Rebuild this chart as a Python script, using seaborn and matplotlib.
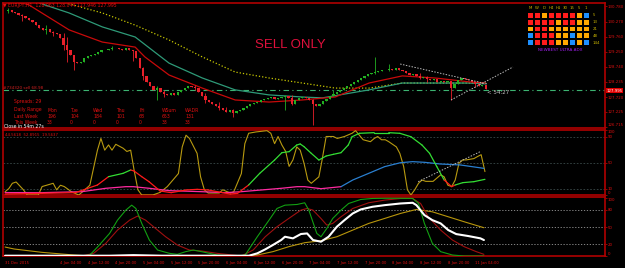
import numpy as np
import pandas as pd
import matplotlib
matplotlib.use("Agg")
import matplotlib.pyplot as plt
import seaborn as sns
from matplotlib.colors import ListedColormap

# ------------------------------------------------------------------ data (x = hourly bar index)
closes = [130.63, 130.66, 130.59, 130.56, 130.50, 130.46, 130.40, 130.33, 130.26, 130.15, 130.05, 129.99, 130.02,
          129.92, 129.88, 129.85,
          129.72, 129.48, 129.31, 129.14, 128.92, 128.87, 128.91,
          129.04, 129.10, 129.14, 129.18, 129.25, 129.31, 129.31, 129.35, 129.38, 129.38, 129.35, 129.31, 129.38,
          129.31, 129.28,
          129.04, 128.71, 128.44, 128.24, 128.10,
          127.97, 128.03, 127.90, 127.83, 127.80, 127.86, 127.80,
          127.90, 127.97, 128.03, 128.10, 128.06, 128.03,
          127.90, 127.76, 127.63, 127.56, 127.49, 127.43, 127.36, 127.29, 127.23, 127.29, 127.19,
          127.26, 127.29, 127.36, 127.43, 127.49, 127.53, 127.56, 127.63, 127.66,
          127.70, 127.73, 127.66, 127.70, 127.73, 127.76, 127.70, 127.49, 127.63, 127.70, 127.73, 127.70,
          127.63, 127.49, 127.43, 127.49, 127.60, 127.66, 127.76,
          127.83, 127.90, 127.97, 128.03, 128.10, 128.17, 128.24, 128.30, 128.37, 128.44, 128.50, 128.54, 128.57,
          128.61, 128.64, 128.64, 128.67, 128.64, 128.71, 128.64,
          128.61, 128.54, 128.47, 128.50, 128.44, 128.37, 128.40, 128.34, 128.30, 128.34, 128.24, 128.27, 128.24,
          128.27,
          128.03,
          128.17, 128.30, 128.37, 128.34, 128.30,
          128.24, 128.17, 128.10, 128.13, 128.00]
first_open = 130.61
wick_idx = [1, 5, 12, 14, 17, 18, 20, 31, 37, 40, 44, 46, 55, 58, 62, 64, 66, 81, 83, 89, 95, 107, 111, 120, 122, 129, 136]
wick_hi = [130.72, 130.54, 130.15, 129.95, 129.88, 129.75, 128.98, 129.45, 129.31, 128.74, 128.10, 127.95, 128.13, 127.85,
           127.55, 127.40, 127.33, 127.80, 127.80, 127.65, 127.95, 129.08, 128.84, 128.55, 128.45, 128.27, 128.20]
wick_lo = [130.55, 130.30, 129.85, 129.80, 129.30, 128.90, 128.64, 129.30, 128.95, 128.30, 127.63, 127.73, 127.98, 127.53,
           127.29, 127.23, 127.06, 127.29, 127.45, 126.79, 127.80, 128.50, 128.60, 128.33, 128.25, 127.63, 128.05]

ma_red_x = [5.0, 7.0, 18.6, 28.2, 37.7, 40.5, 47.5, 57.1, 66.6, 76.4, 86.0, 95.5, 105.3, 114.9, 124.4, 134.2, 139]
ma_red_y = [130.90, 130.83, 129.99, 129.58, 129.41, 129.08, 128.47, 128.03, 127.63, 127.56, 127.63, 127.73, 128.20,
            128.44, 128.37, 128.24, 128.20]
ma_teal_x = [10.2, 11.6, 18.6, 28.2, 37.7, 47.5, 57.1, 66.6, 76.4, 86.0, 91.8, 105.3, 114.9, 124.4, 134.2, 139]
ma_teal_y = [130.90, 130.83, 130.56, 130.09, 129.75, 128.87, 128.37, 127.97, 127.80, 127.73, 127.70, 127.97, 128.20,
             128.20, 128.20, 128.17]
ma_yel_x = [17.5, 28.2, 37.7, 47.5, 57.1, 66.6, 76.4, 86.0, 95.5, 105.3, 114.9, 124.4, 139]
ma_yel_y = [130.90, 130.56, 130.15, 129.65, 129.08, 128.57, 128.37, 128.20, 128.03, 128.03, 128.20, 128.20, 128.20]

trend_up_x = [114.3, 139.4]
trend_up_y = [128.84, 128.17]
trend_lo_x = [129.0, 146.9]
trend_lo_y = [127.63, 128.74]

price_ticks = [126.715, 127.225, 127.720, 128.235, 128.740, 129.250, 129.760, 130.270, 130.780]
last_price = 127.995
order_price = 127.98

time_idx = [0, 16, 24, 32, 40, 48, 56, 64, 72, 80, 88, 96, 104, 112, 120, 128, 136]
time_labels = ["31 Dec 2015", "4 Jan 04:00", "4 Jan 12:00", "4 Jan 20:00", "5 Jan 04:00", "5 Jan 12:00",
               "5 Jan 20:00", "6 Jan 04:00", "6 Jan 12:00", "6 Jan 20:00", "7 Jan 04:00", "7 Jan 12:00",
               "7 Jan 20:00", "8 Jan 04:00", "8 Jan 12:00", "8 Jan 20:00", "11 Jan 04:00"]

# panel 2 (oscillators)
osc_yel_x = [0.1, 1.2, 2.2, 3.3, 5.4, 6.5, 9.7, 10.8, 14.0, 15.0, 16.1, 17.2, 19.3, 21.4, 22.5, 24.6, 26.8, 27.8,
             28.9, 30.0, 31.0, 32.1, 34.2, 35.3, 36.4, 37.4, 38.5, 39.6, 42.8, 44.9, 47.0, 50.2, 51.3, 52.4, 53.4,
             55.6, 56.6, 57.7, 58.8, 62.0, 63.0, 65.2, 66.2, 68.4, 69.4, 70.5, 72.6, 75.8, 76.9, 78.0, 79.0, 80.1,
             81.2, 82.2, 83.3, 84.4, 85.4, 86.5, 87.6, 88.6, 90.8, 91.8, 92.9, 95.0, 96.1, 98.2, 100.4, 101.4, 102.5,
             103.6, 105.7, 106.8, 107.8, 108.9, 110.0, 111.0, 113.2, 114.2, 115.3, 116.4, 117.4, 118.5, 119.6, 120.6,
             121.7, 123.8, 124.9, 126.0, 127.0, 128.1, 129.2, 130.2, 131.3, 132.4, 133.4, 135.6, 136.6, 137.7, 138.8]
osc_yel_v = [5, 10, 18, 20, 8, 0, 0, 13, 18, 8, 15, 13, 5, 0, 5, 15, 69, 87, 69, 77, 69, 78, 72, 67, 69, 38, 8, 0,
             0, 4, 13, 33, 74, 92, 87, 64, 28, 8, 3, 3, 8, 3, 5, 33, 79, 95, 97, 99, 95, 79, 90, 77, 67, 44,
             54, 74, 69, 49, 23, 18, 28, 56, 90, 90, 87, 90, 95, 99, 92, 85, 82, 87, 90, 85, 85, 82, 74, 64,
             44, 8, 0, 8, 18, 23, 21, 21, 26, 31, 28, 15, 13, 23, 49, 54, 54, 56, 59, 62, 36]
adx_x = [0.1, 10.8, 20.4, 26.8, 30.0, 34.2, 36.4, 37.4, 39.6, 41.7, 44.9, 48.1, 52.4, 55.6, 58.8, 63.0, 65.2, 67.3,
         70.5, 73.7, 78.0, 80.1, 82.2, 84.4, 85.4, 86.5, 88.6, 90.8, 92.9, 95.0, 97.2, 99.3, 100.4, 102.5, 106.8,
         111.0, 114.2, 117.4, 120.6, 122.8, 124.9, 127.0, 129.2, 130.2, 132.4, 135.6, 138.8]
adx_v = [1.5, 2.6, 3.6, 15.4, 28.2, 33.3, 38.5, 36.9, 28.2, 20.5, 6.2, 3.6, 7.7, 8.7, 7.7, 3.6, 1.5, 2.6, 15.4, 33.3,
         53.8, 65.1, 66.7, 76.9, 78.5, 74.4, 64.1, 53.8, 60.0, 62.6, 65.1, 76.9, 89.7, 94.9, 95.9, 95.9, 94.9, 89.7,
         76.9, 64.1, 43.6, 23.1, 12.8, 15.4, 19.0, 20.5, 24.1]
adx_col = ["r", "r", "r", "r", "r", "g", "g", "r", "r", "r", "r", "r", "r", "r", "r", "r", "r", "r", "r", "g",
           "g", "g", "g", "g", "g", "g", "g", "g", "g", "g", "g", "g", "g", "g", "g", "g", "g", "g", "g", "g",
           "g", "g", "r", "r", "g", "g", "g"]
mag_x = [0.1, 10.8, 22.3, 29.2, 35.0, 37.2, 41.8, 47.6, 56.9, 63.8, 68.4, 74.1, 79.9, 84.5, 86.7, 91.4, 97.2]
mag_v = [3.6, 3.6, 5.1, 10.3, 12.8, 12.8, 10.3, 6.7, 5.1, 3.6, 5.1, 7.7, 10.3, 12.8, 12.8, 9.7, 12.8]
blue_x = [97.2, 100.6, 105.2, 109.8, 114.4, 117.9, 121.3, 125.9, 131.7, 135.1, 138.5]
blue_v = [12.8, 23.1, 33.3, 43.6, 49.7, 51.3, 50.3, 47.7, 46.2, 43.6, 41.0]
osc_trend_x = [119.5, 137.4]
osc_trend_v = [20.5, 66.6]
osc_levels = [10, 50, 90]

# panel 3 (stochastics)
sto_green_x = [0.1, 22.3, 24.6, 26.9, 30.3, 32.6, 35.0, 36.7, 37.9, 39.6, 41.8, 44.2, 47.6, 49.9, 52.3, 54.5, 56.9,
               61.4, 67.2, 69.5, 73.0, 76.4, 78.7, 81.0, 84.5, 86.7, 87.9, 90.2, 91.4, 93.1, 94.8, 97.2, 99.4, 102.9,
               106.3, 109.8, 114.4, 117.9, 119.6, 121.3, 123.6, 126.0, 129.4, 132.8, 138.5]
sto_green_v = [0, 0, 1.7, 16.1, 39, 62, 79.3, 87.9, 82.2, 56.3, 27.6, 10.3, 4.6, 2.9, 7.5, 10.3, 7.5, 1.7,
               0, 1.7, 33.3, 62, 82.2, 87.9, 89.1, 92, 79.3, 39, 33.3, 47.7, 64.9, 79.3, 90.8, 97.7, 99.5,
               99.8, 99.8, 99.5, 90.8, 56.3, 21.8, 7.5, 1.7, 0, 0]
sto_red_x = [0.1, 22.3, 25.7, 29.2, 32.6, 36.1, 38.4, 40.7, 43.0, 46.5, 49.9, 53.4, 56.9, 61.4, 68.4, 71.8, 75.3,
             78.7, 82.1, 85.6, 87.4, 89.1, 91.4, 93.1, 94.8, 97.2, 100.6, 105.2, 109.8, 114.4, 117.9, 120.2, 122.4,
             126.0, 129.4, 132.8, 136.3, 138.5]
sto_red_v = [0, 0, 4.6, 21.8, 44.8, 62, 69, 62, 50.6, 33.3, 19, 10.3, 8.6, 4.6, 0, 10.3, 33.3, 50.6,
             64.9, 79.3, 82.2, 79.3, 64.9, 53.4, 56.3, 67.8, 82.2, 92, 96.6, 99.4, 99.4, 90.8, 67.8, 44.8,
             27.6, 16.1, 7.5, 2.9]
sto_gold_x = [0.1, 2.7, 10.8, 20.0, 24.6, 68.4, 73.0, 77.5, 82.1, 86.7, 91.4, 96.0, 100.6, 105.2, 109.8, 114.4,
              119.0, 123.6, 128.2, 132.8, 138.5]
sto_gold_v = [15.5, 12.1, 6.3, 1.7, 0, 0, 1.7, 7.5, 16.1, 23, 26.4, 33.3, 44.8, 56.3, 64.9, 73.6, 80.5,
              76.4, 67.8, 59.2, 48.9]
sto_white_x = [0.1, 30.3, 37.2, 45.3, 68.4, 70.6, 73.0, 75.3, 77.5, 79.9, 81.0, 83.3, 85.6, 87.4, 89.1, 91.4, 93.6,
               96.0, 98.2, 100.6, 102.9, 106.3, 109.8, 114.4, 117.9, 119.0, 121.3, 123.6, 126.0, 128.2, 130.5,
               134.0, 137.5, 138.5]
sto_white_v = [0.5, 0.5, 1.5, 0.5, 0.5, 0.5, 4.6, 11.5, 19, 27.6, 33.3, 30.5, 38, 39, 27.6, 24.7, 33.3,
               50.6, 62, 73.6, 80.5, 85.1, 87.9, 90.8, 92, 87.9, 70.7, 62, 56.3, 44.8, 37.9, 34.5,
               30.5, 27.6]
sto_levels = [20, 50, 80]

# heat grid
grid_cols = ["M", "W", "D", "H4", "H1", "30", "15", "5", "1"]
grid_rows = ["5", "13", "21", "48", "144"]
grid_vals = [[0, 0, 1, 0, 0, 0, 0, 1, 2],
             [0, 0, 0, 0, 1, 0, 0, 1, 1],
             [1, 0, 0, 1, 1, 1, 1, 1, 1],
             [2, 0, 0, 0, 1, 1, 2, 1, 1],
             [2, 0, 0, 0, 1, 1, 2, 1, 2]]

table_head = ["Daily Range", "Mon", "Tue", "Wed", "Thu", "Fri", "WSum", "WADR"]
table_last = ["Last Week", "196", "104", "184", "101", "68", "653", "131"]
table_this = ["This Week", "33", "0", "0", "0", "0", "33", "33"]

# ------------------------------------------------------------------ style
sns.set_theme(style="dark")
plt.rcParams.update({"figure.facecolor": "black", "axes.facecolor": "black",
                     "savefig.facecolor": "black", "axes.grid": False})
plt.rcParams["font.family"] = ["DejaVu Sans"]

FW, FH = 625, 268
RED = "#e01010"
BORDER = "#b00000"
fig = plt.figure(figsize=(FW / 100, FH / 100), dpi=100)


def fax(x0, y0, x1, y1):
    return fig.add_axes([x0 / FW, 1 - y1 / FH, (x1 - x0) / FW, (y1 - y0) / FH])


def ftxt(x, y, s, **kw):
    kw.setdefault("va", "center")
    kw.setdefault("ha", "left")
    return fig.text(x / FW, 1 - y / FH, s, **kw)


XL = (-0.5, 173.5)
ax1 = fax(3, 3, 605, 128)
ax2 = fax(3, 130, 605, 195)
ax3 = fax(3, 197, 605, 256)

for ax in (ax1, ax2, ax3):
    ax.set_facecolor("black")
    ax.set_xlim(*XL)
    for sp in ax.spines.values():
        sp.set_color(BORDER)
        sp.set_linewidth(1.2)
    ax.yaxis.tick_right()
    ax.tick_params(axis="y", colors=BORDER, labelcolor=RED, labelsize=2.8, length=1.5, width=0.6, pad=0.6)
    ax.tick_params(axis="x", length=0, labelbottom=False)


def edge_align(ax):
    labs = ax.get_yticklabels()
    labs[0].set_va("bottom")
    labs[-1].set_va("top")


# ---------------- price panel
ax1.set_ylim(126.686, 130.895)
c = np.array(closes)
o = np.r_[first_open, c[:-1]]
hi = np.maximum(o, c)
lo = np.minimum(o, c)
for i, h, l in zip(wick_idx, wick_hi, wick_lo):
    hi[i] = max(hi[i], h)
    lo[i] = min(lo[i], l)
idx = np.arange(len(c))
bull = c >= o
cols = np.where(bull, "#22b022", "#e8202a")
ax1.vlines(idx, lo, hi, colors=cols, lw=0.6, zorder=3)
body = np.where(np.abs(c - o) < 0.012, 0.012, c - o)
ax1.bar(idx, body, bottom=o, width=0.64, color=cols, linewidth=0, zorder=4)

sns.lineplot(x=ma_yel_x, y=ma_yel_y, ax=ax1, color="#c8c800", lw=0.9, linestyle=(0, (1, 1.6)), zorder=2)
sns.lineplot(x=ma_teal_x, y=ma_teal_y, ax=ax1, color="#2e9a78", lw=0.9, zorder=2)
sns.lineplot(x=ma_red_x, y=ma_red_y, ax=ax1, color="#c80a0a", lw=0.9, zorder=2)
sns.lineplot(x=trend_up_x, y=trend_up_y, ax=ax1, color="#bbbbbb", lw=0.7, linestyle=(0, (1.5, 1.5)), zorder=5)
sns.lineplot(x=trend_lo_x, y=trend_lo_y, ax=ax1, color="#bbbbbb", lw=0.7, linestyle=(0, (1.5, 1.5)), zorder=5)
ax1.axhline(order_price, color="#3cb371", lw=0.8, linestyle=(0, (5, 3, 1, 3)), zorder=1)

ax1.set_yticks(price_ticks)
ax1.set_yticklabels([f"{v:.3f}" for v in price_ticks])
ax1.get_yticklabels()[0].set_va("bottom")
ax1.set_xlabel("")
ax1.set_ylabel("")

# ---------------- oscillator panel
ax2.set_ylim(0, 100)
for lv in osc_levels:
    ax2.axhline(lv, color="#3a4a4a", lw=0.6, linestyle=(0, (2, 2)), zorder=1)
sns.lineplot(x=osc_yel_x, y=osc_yel_v, ax=ax2, color="#b89a10", lw=0.8, zorder=3)
sns.lineplot(x=mag_x, y=mag_v, ax=ax2, color="#ff2aa0", lw=0.9, zorder=3)
sns.lineplot(x=blue_x, y=blue_v, ax=ax2, color="#2a7fd0", lw=0.9, zorder=3)
for k in range(1, len(adx_x)):
    sns.lineplot(x=adx_x[k - 1:k + 1], y=adx_v[k - 1:k + 1], ax=ax2,
                 color="#ff1a1a" if adx_col[k] == "r" else "#33dd33", lw=0.9, zorder=4)
sns.lineplot(x=osc_trend_x, y=osc_trend_v, ax=ax2, color="#bbbbbb", lw=0.7, linestyle=(0, (1.5, 1.5)), zorder=5)
ax2.set_yticks([0] + osc_levels + [100])
ax2.set_yticklabels(["0"] + [str(v) for v in osc_levels] + ["100"])
edge_align(ax2)
ax2.set_xlabel("")
ax2.set_ylabel("")

# ---------------- stochastic panel
ax3.set_ylim(0, 102)
for lv in sto_levels:
    ax3.axhline(lv, color="#9a9a9a", lw=0.6, linestyle=(0, (1.5, 2)), zorder=1)
sns.lineplot(x=sto_gold_x, y=sto_gold_v, ax=ax3, color="#b8960c", lw=0.8, zorder=3)
sns.lineplot(x=sto_red_x, y=sto_red_v, ax=ax3, color="#a01010", lw=0.8, zorder=3)
sns.lineplot(x=sto_green_x, y=sto_green_v, ax=ax3, color="#12a012", lw=0.8, zorder=3)
sns.lineplot(x=sto_white_x, y=sto_white_v, ax=ax3, color="white", lw=1.5, zorder=4)
ax3.set_yticks([0] + sto_levels + [100])
ax3.set_yticklabels(["0"] + [str(v) for v in sto_levels] + ["100"])
edge_align(ax3)
ax3.set_xticks(time_idx)
ax3.set_xticklabels(time_labels)
ax3.tick_params(axis="x", length=2, colors=BORDER, labelcolor=RED, labelsize=2.7, labelbottom=True, pad=1.5)
for t in ax3.get_xticklabels():
    t.set_ha("left")
ax3.set_xlabel("")
ax3.set_ylabel("")

# ---------------- heat grid
axh = fax(527, 12, 590, 46)
sns.heatmap(np.array(grid_vals), ax=axh, cmap=ListedColormap(["#ff1c1c", "#ffa800", "#1e90ff"]),
            vmin=-0.5, vmax=2.5, cbar=False, linewidths=1.1, linecolor="black", square=False)
axh.set_xticks([]); axh.set_yticks([])
axh.set_xlabel(""); axh.set_ylabel("")
for j, lab in enumerate(grid_cols):
    ftxt(530 + j * 7.0, 8, lab, color="#c8b400", fontsize=2.8, ha="center")
for r, lab in enumerate(grid_rows):
    ftxt(593, 15.5 + r * 6.8, lab, color="#c8b400", fontsize=2.8)
ftxt(560, 50, "NEWBEST ULTRA ADX", color="#a020f0", fontsize=3.0, ha="center")

# ---------------- texts
ftxt(3, 5, "\u25bc EURJPY,H1  128.063 128.044 127.946 127.995", color=RED, fontsize=3.3)
ftxt(290, 45, "SELL ONLY", color="#e0103c", fontsize=9.5, ha="center", family=["Liberation Sans"])
ftxt(3, 88, "#734320 sell 68.98", color="#d02020", fontsize=3.0)
ftxt(14, 101, "Spreads: 29", color=RED, fontsize=3.3)
col_x = [14, 47, 70, 93, 116, 139, 162, 185]
for row, yy in ((table_head, 110), (table_last, 117), (table_this, 122)):
    for xx, s in zip(col_x, row):
        ftxt(xx, yy, s, color=RED, fontsize=3.3)
ftxt(4, 126.5, "Close in 54m 27s", color="white", fontsize=3.3)
ftxt(487, 93, "< 54:27", color="#c8c8c8", fontsize=4.0)
ftxt(5, 135, "44.5618  52.8915  19.5637", color=RED, fontsize=2.8)
ftxt(606.5, 90.5, f"{last_price:.3f}", color="white", fontsize=2.8,
     bbox=dict(boxstyle="square,pad=0.2", fc="#e00000", ec="none"))

fig.savefig("out.png", dpi=100, facecolor="black")
